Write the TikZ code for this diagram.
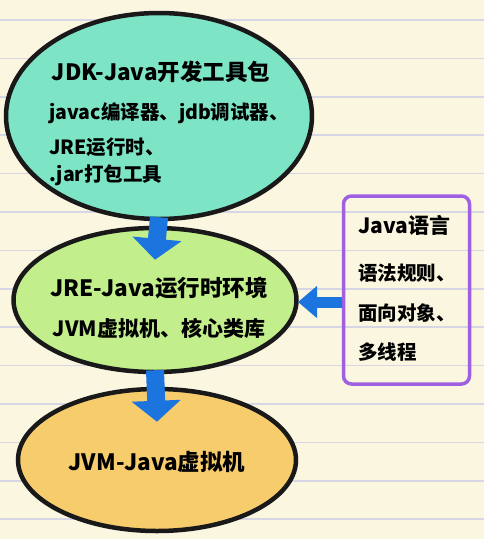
\documentclass[tikz,border=0pt]{standalone}
\usepackage{fontspec}
\setmainfont{Noto Sans CJK SC}
\usetikzlibrary{shapes.geometric,arrows.meta}
\definecolor{bgcream}{RGB}{251,246,224}
\definecolor{ruleline}{RGB}{214,214,228}
\definecolor{tealfill}{RGB}{125,228,198}
\definecolor{greenfill}{RGB}{194,238,140}
\definecolor{orangefill}{RGB}{247,204,108}
\definecolor{arrowblue}{RGB}{28,116,222}
\definecolor{boxpurple}{RGB}{158,96,224}
\tikzset{
  oval/.style={ellipse, draw=black!90, line width=4.5pt, inner sep=0pt},
  txt/.style={inner sep=0pt, anchor=west, font=\fontsize{19.5}{22}\selectfont\bfseries},
  ttl/.style={inner sep=0pt, font=\fontsize{21}{24}\selectfont\bfseries},
  bigttl/.style={inner sep=0pt, font=\fontsize{22.5}{26}\selectfont\bfseries},
  downarrow/.style={draw=arrowblue, line width=18pt,
    -{Triangle[width=48pt,length=21pt]}, shorten >=0pt},
  leftarrow/.style={draw=arrowblue, line width=11pt,
    -{Triangle[width=31pt,length=19pt]}},
  langbox/.style={draw=boxpurple, line width=3.5pt, rounded corners=8pt}
}
\begin{document}
\begin{tikzpicture}[x=1pt,y=-1pt]
  % background paper
  \fill[bgcream] (0,0) rectangle (484,539);
  \useasboundingbox (0,0) rectangle (484,539);
  \foreach \k in {0,...,13} {
    \draw[ruleline, line width=1.6pt] (0,{20+38.4*\k}) -- (484,{20+38.4*\k});
  }
  % ellipses
  \node[oval, fill=tealfill, minimum width=306pt, minimum height=206pt] (jdk) at (159,116) {};
  \node[oval, fill=greenfill, minimum width=283pt, minimum height=144pt] (jre) at (155,300) {};
  \node[oval, fill=orangefill, minimum width=278pt, minimum height=142pt] (jvm) at (157,460) {};
  % language box
  \node[langbox, minimum width=126pt, minimum height=188pt] (java) at (406.5,290) {};
  % arrows
  \draw[downarrow] ([yshift=4pt]jdk.south) -- ([yshift=-34pt]jre.north);
  \draw[downarrow] ([yshift=4pt]jre.south) -- ([yshift=-35pt]jvm.north);
  \draw[leftarrow] (java.west |- 0,302) -- (298,302);
  % texts
  \node[bigttl] (t1) at (161,72) {JDK-Java开发工具包};
  \node[txt] (t2) at (49,113) {javac编译器、jdb调试器、};
  \node[txt] (t3) at (49,147) {JRE运行时、};
  \node[txt] (t4) at (49,175) {.jar打包工具};
  \node[bigttl] (r1) at (159,288) {JRE-Java运行时环境};
  \node[ttl] (r2) at (159,328) {JVM虚拟机、核心类库};
  \node[bigttl] (v1) at (157,462) {JVM-Java虚拟机};
  \node[ttl, anchor=west] (j1) at (358,225) {Java语言};
  \node[txt] (j2) at (358,273) {语法规则、};
  \node[txt] (j3) at (358,313) {面向对象、};
  \node[txt] (j4) at (358,352) {多线程};
\end{tikzpicture}
\end{document}
